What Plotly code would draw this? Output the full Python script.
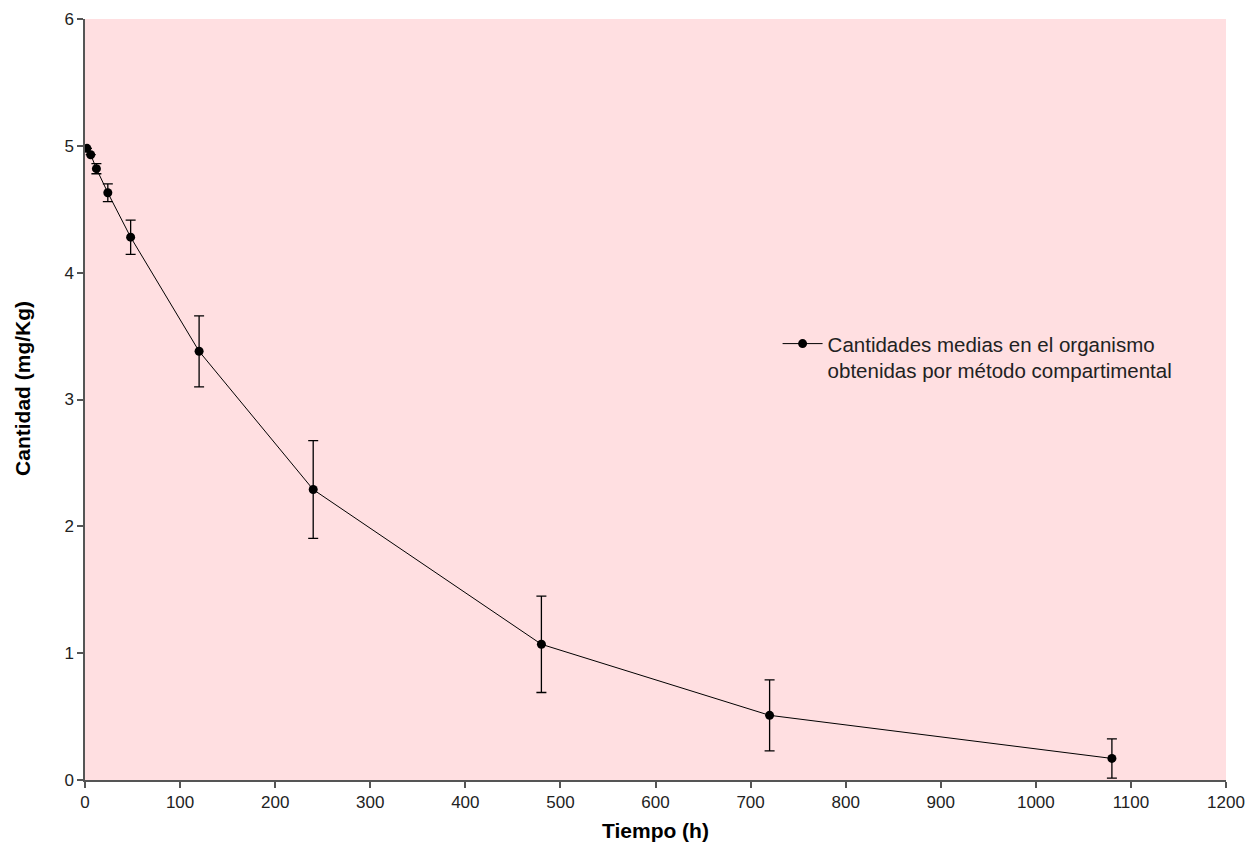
import plotly.graph_objects as go

# Tiempos de muestreo (h) y cantidades medias en el organismo (mg/Kg)
tiempo_h = [2, 6, 12, 24, 48, 120, 240, 480, 720, 1080]
cantidad_media = [4.98, 4.93, 4.82, 4.63, 4.28, 3.38, 2.29, 1.07, 0.51, 0.17]
desviacion = [0.0, 0.0, 0.04, 0.07, 0.135, 0.28, 0.385, 0.38, 0.28, 0.155]

x_ticks = list(range(0, 1201, 100))
y_ticks = [0, 1, 2, 3, 4, 5, 6]

FONT = "Liberation Sans, Arial, sans-serif"

fig = go.Figure()
fig.add_trace(go.Scatter(
    x=tiempo_h,
    y=cantidad_media,
    mode="lines+markers",
    name="Cantidades medias en el organismo<br>obtenidas por método compartimental",
    line=dict(color="#000000", width=1),
    marker=dict(color="#000000", size=9, symbol="circle"),
    error_y=dict(type="data", array=desviacion, visible=True,
                 color="#000000", thickness=1.3, width=5),
))

axis_common = dict(
    showgrid=False, zeroline=False, automargin=False,
    showline=True, linecolor="#555555", linewidth=1.5,
    ticks="outside", ticklen=6, tickcolor="#555555", tickwidth=1.5,
    tickfont=dict(family=FONT, size=17, color="#222222"),
)

fig.update_layout(
    width=1248, height=843,
    margin=dict(l=85, r=22, t=19, b=63),
    paper_bgcolor="#FFFFFF",
    plot_bgcolor="#FFDFE1",
    showlegend=True,
    legend=dict(
        x=0.607, y=0.5995, xanchor="left", yanchor="top",
        valign="top", itemwidth=40,
        bgcolor="rgba(0,0,0,0)",
        font=dict(family=FONT, size=20.5, color="#222222"),
    ),
    xaxis=dict(range=[0, 1200], tickvals=x_ticks, **axis_common),
    yaxis=dict(range=[0, 6], tickvals=y_ticks, **axis_common),
    annotations=[
        dict(text="<b>Tiempo (h)</b>", xref="paper", yref="paper",
             x=0.5, y=-0.067, xanchor="center", yanchor="middle",
             showarrow=False, font=dict(family=FONT, size=21, color="#000000")),
        dict(text="<b>Cantidad (mg/Kg)</b>", xref="paper", yref="paper",
             x=-0.0543, y=0.514, xanchor="center", yanchor="middle",
             textangle=-90, showarrow=False,
             font=dict(family=FONT, size=21, color="#000000")),
    ],
)

fig.write_html("out.html")
